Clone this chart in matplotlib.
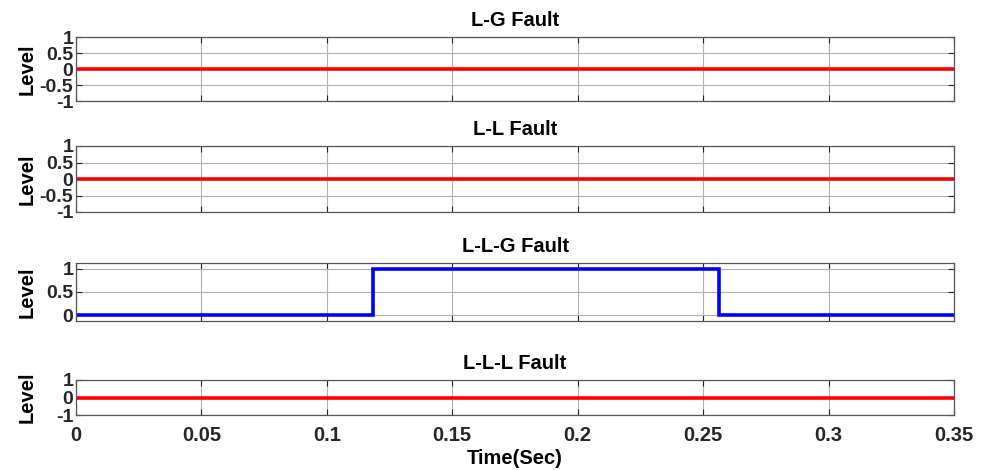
import matplotlib
matplotlib.use("Agg")
import matplotlib.pyplot as plt
import numpy as np

plt.rcParams['font.family'] = ['Liberation Sans', 'DejaVu Sans']
plt.rcParams['font.weight'] = 'bold'

titles = ["L-G Fault", "L-L Fault", "L-L-G Fault", "L-L-L Fault"]
colors = ["#ff0000", "#ff0000", "#0000ff", "#ff0000"]
t_lg = [0.0, 0.35]; v_lg = [0, 0]
t_ll = [0.0, 0.35]; v_ll = [0, 0]
t_llg = [0.0, 0.1184, 0.1184, 0.2563, 0.2563, 0.35]
v_llg = [0, 0, 1, 1, 0, 0]
t_lll = [0.0, 0.35]; v_lll = [0, 0]
series = [(t_lg, v_lg), (t_ll, v_ll), (t_llg, v_llg), (t_lll, v_lll)]
yticks = [[-1, -0.5, 0, 0.5, 1], [-1, -0.5, 0, 0.5, 1], [0, 0.5, 1], [-1, 0, 1]]
ylims = [(-1, 1), (-1, 1), (-0.12, 1.12), (-1, 1)]
xticks = [0, 0.05, 0.1, 0.15, 0.2, 0.25, 0.3, 0.35]
xticklabels = ["0", "0.05", "0.1", "0.15", "0.2", "0.25", "0.3", "0.35"]

W, H = 989, 470
fig = plt.figure(figsize=(W/100, H/100), dpi=100)
boxes = [(37, 101), (146, 212), (263, 321), (380, 415)]
left, right = 76, 954
FS = 14.5
for i, (top, bot) in enumerate(boxes):
    ax = fig.add_axes([left/W, 1 - bot/H, (right-left)/W, (bot-top)/H])
    t, v = series[i]
    ax.plot(t, v, color=colors[i], lw=2.6, solid_joinstyle='miter')
    ax.set_xlim(0, 0.35)
    ax.set_ylim(*ylims[i])
    ax.set_yticks(yticks[i])
    ax.set_yticklabels([f"{y:g}" for y in yticks[i]], fontsize=14, fontweight='bold')
    ax.set_xticks(xticks)
    if i == 3:
        ax.set_xticklabels(xticklabels, fontsize=FS, fontweight='bold')
        ax.set_xlabel("Time(Sec)", fontsize=FS, fontweight='bold', labelpad=3)
        ax.tick_params(axis='x', pad=8)
    else:
        ax.set_xticklabels([])
    ax.grid(True, color='#b0b0b0', lw=0.8)
    ax.tick_params(direction='in', length=4, top=True, right=True, width=0.8,
                   colors='#262626')
    ax.tick_params(axis='y', pad=2)
    for s in ax.spines.values():
        s.set_color('#555555'); s.set_linewidth(0.9)
    ax.set_title(titles[i], fontsize=FS, fontweight='bold', pad=8)
    ax.set_ylabel("Level", fontsize=FS, fontweight='bold')
    ax.yaxis.set_label_coords(-0.045, 0.5)

fig.savefig("out.png", dpi=100)
